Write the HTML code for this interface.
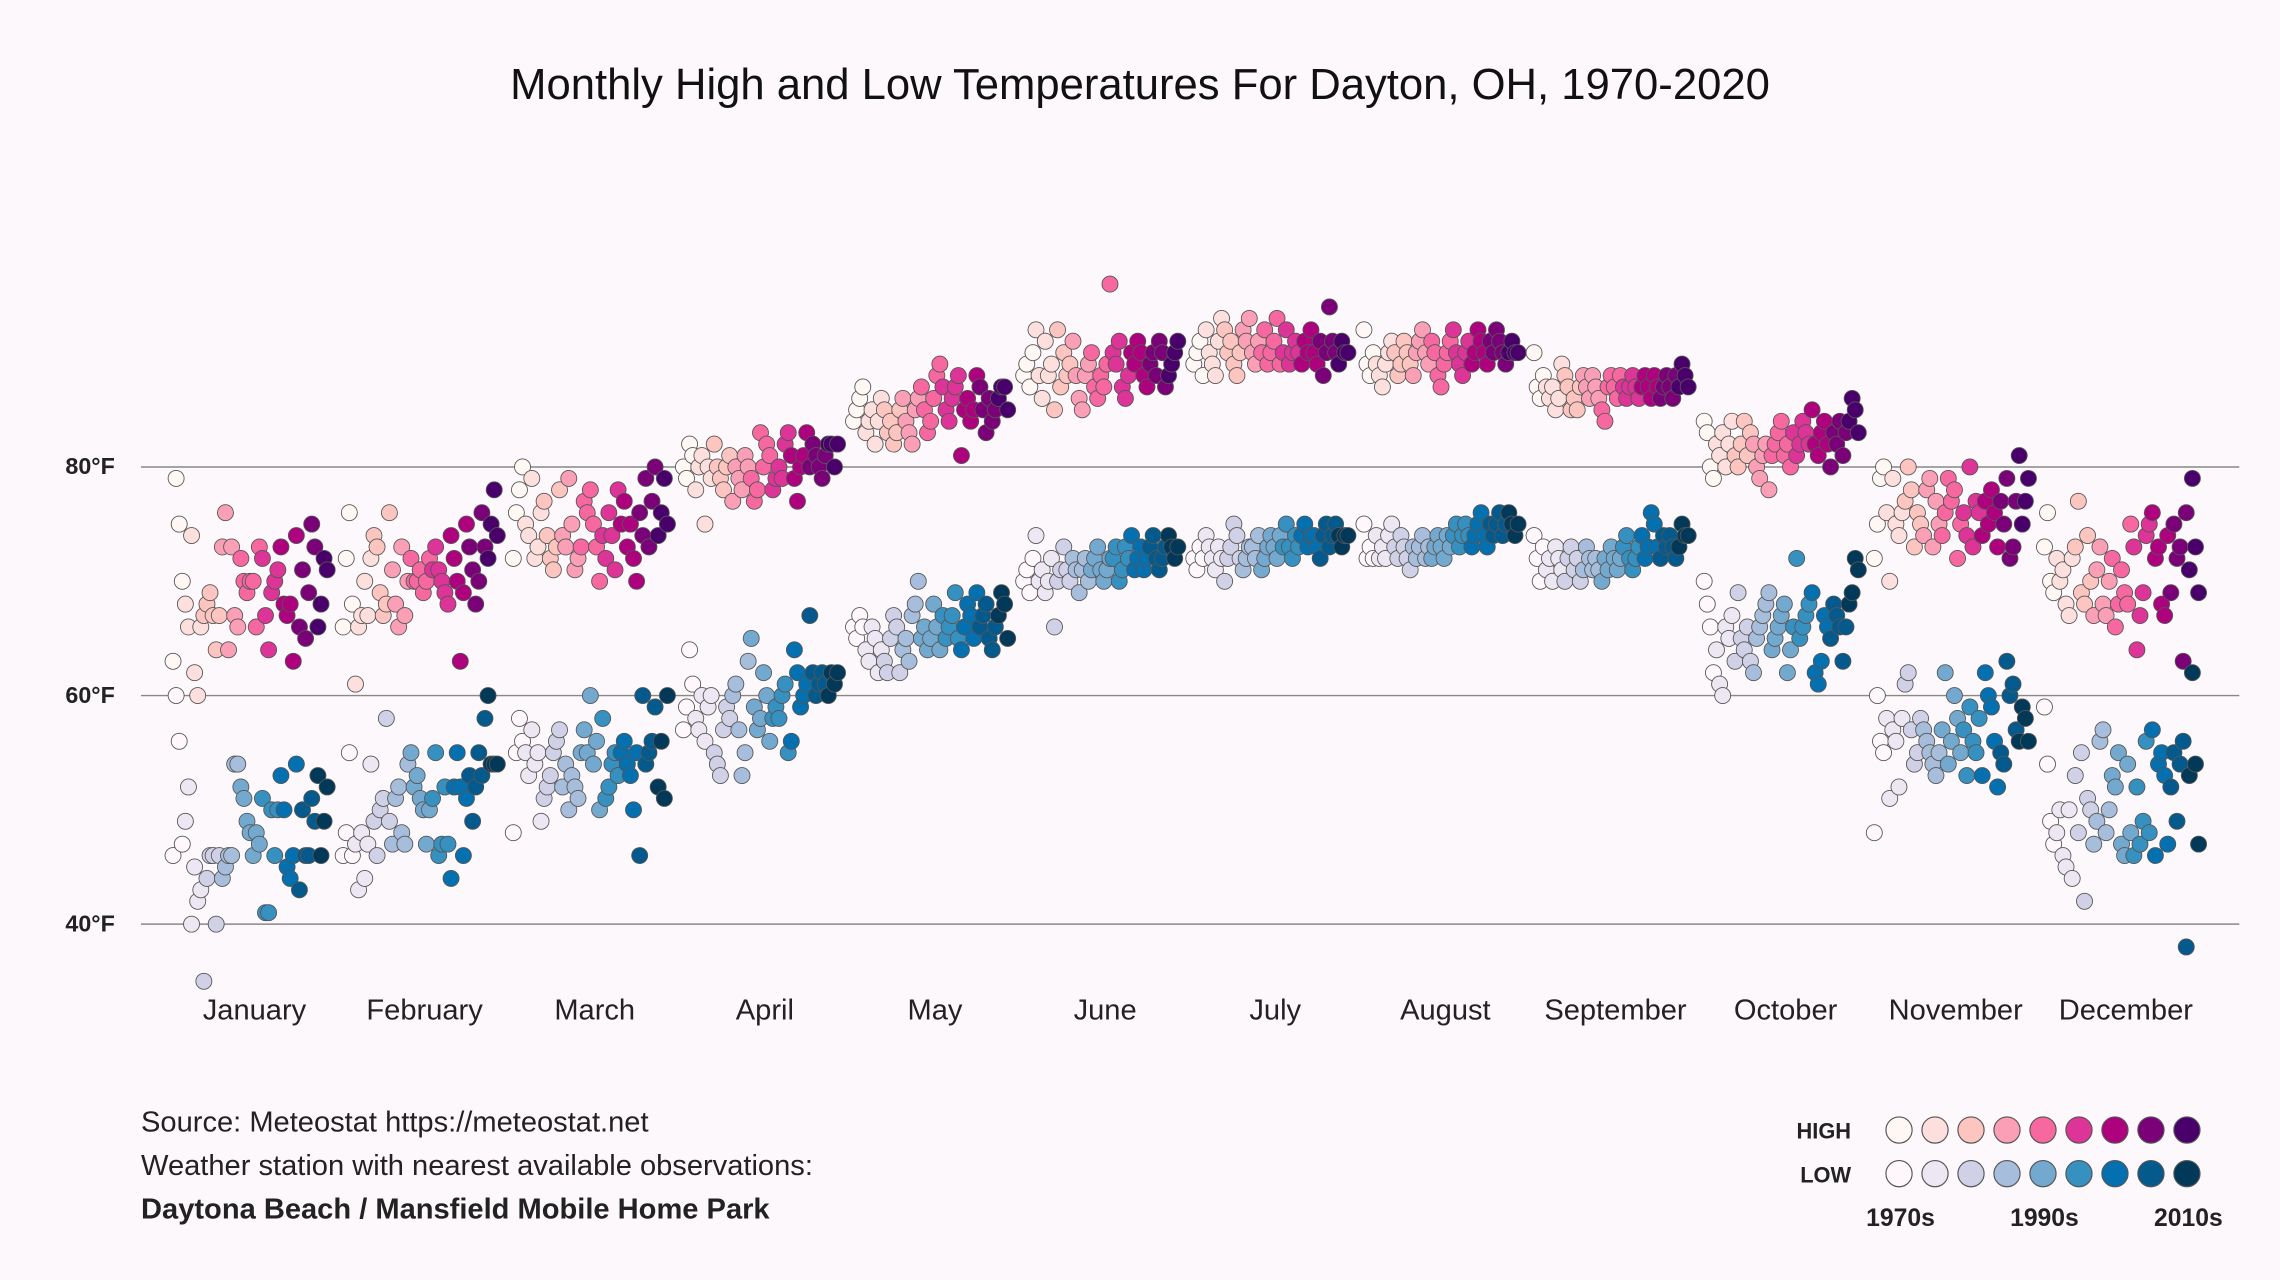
<!DOCTYPE html>
<html><head><meta charset="utf-8"><style>
html,body{margin:0;padding:0;background:#fdf8fb;}
svg{display:block;font-family:"Liberation Sans",sans-serif;}
</style></head><body>
<svg id="chart" width="2280" height="1280" viewBox="0 0 1568 880" xmlns="http://www.w3.org/2000/svg">
<rect width="1568" height="880" fill="#fdf8fb"/>
<text x="784" y="68" text-anchor="middle" font-size="30" fill="#111">Monthly High and Low Temperatures For Dayton, OH, 1970-2020</text>
<g id="grid"></g>
<g id="ylabels"></g>
<g id="xlabels"></g>
<g id="points"></g>
<g font-size="20" fill="#222">
<text x="97" y="778">Source: Meteostat https://meteostat.net</text>
<text x="97" y="808">Weather station with nearest available observations:</text>
<text x="97" y="838" font-weight="bold">Daytona Beach / Mansfield Mobile Home Park</text>
</g>
<g id="legend">
<text x="1273" y="783" text-anchor="end" font-size="15" font-weight="bold" fill="#222">HIGH</text>
<text x="1273" y="813" text-anchor="end" font-size="15" font-weight="bold" fill="#222">LOW</text>
<text x="1307" y="843" text-anchor="middle" font-size="17" font-weight="bold" fill="#222">1970s</text>
<text x="1406" y="843" text-anchor="middle" font-size="17" font-weight="bold" fill="#222">1990s</text>
<text x="1505" y="843" text-anchor="middle" font-size="17" font-weight="bold" fill="#222">2010s</text>
</g>
</svg>
<script>
const months=["January","February","March","April","May","June","July","August","September","October","November","December"];
const yTicks=[40,60,80];
const startYear=1970;
const highJan=[63,79,75,70,68,66,74,62,60,66,67,68,69,67,64,67,73,76,64,73,67,66,72,70,69,70,70,66,73,72,67,64,69,70,71,73,68,67,68,63,74,66,71,65,69,75,73,66,68,72,71];
const lowJan=[46,60,56,47,49,52,40,45,42,43,35,44,46,46,40,46,44,45,46,46,54,54,52,51,49,48,46,48,47,51,41,41,50,46,50,53,50,45,44,46,54,43,50,46,46,51,49,53,46,49,52];
const highFeb=[66,72,76,68,61,66,67,70,67,72,74,73,69,67,68,76,71,68,66,73,67,70,72,70,70,71,69,70,72,71,73,71,70,69,68,74,72,70,63,69,75,73,71,68,70,76,73,72,75,78,74];
const lowFeb=[46,48,55,46,47,43,48,44,47,54,49,46,50,51,58,49,47,51,52,48,47,54,55,52,53,51,50,47,50,51,55,46,47,52,47,44,52,55,52,46,51,53,49,52,55,53,58,60,54,54,54];
const highMar=[72,76,78,80,75,74,79,72,73,76,77,74,72,71,73,78,74,73,79,75,71,72,73,77,76,78,75,73,70,74,72,76,74,71,78,75,77,73,75,72,70,76,74,79,73,77,80,74,76,79,75];
const lowMar=[48,55,58,56,55,53,57,54,55,49,51,52,53,55,56,57,52,54,50,53,52,51,55,57,55,60,54,56,50,58,51,52,54,55,53,55,56,54,53,50,55,46,60,54,55,56,59,52,56,51,60];
const highApr=[80,79,82,81,78,80,81,75,80,79,82,80,79,78,80,81,77,80,79,78,81,80,79,77,78,83,80,82,81,78,79,80,79,82,83,81,79,77,80,81,83,80,82,81,80,79,81,82,82,80,82];
const lowApr=[57,59,64,61,58,57,60,56,59,60,55,54,53,57,59,58,60,61,57,53,55,63,65,59,57,58,62,60,56,58,59,58,60,61,55,56,64,62,59,60,61,67,62,60,61,62,61,60,62,61,62];
const highMay=[84,85,86,87,83,84,85,82,84,86,85,83,84,82,83,85,86,84,83,82,85,86,87,85,83,84,86,88,89,87,85,84,86,87,88,81,85,86,84,85,88,87,85,83,86,84,85,86,87,87,85];
const lowMay=[66,65,67,66,64,63,66,65,62,64,63,62,65,67,66,62,64,65,63,67,68,70,65,66,64,65,68,66,64,67,65,66,67,69,65,64,66,68,67,65,69,66,67,68,65,64,66,67,69,68,65];
const highJun=[88,89,87,90,92,88,86,91,88,89,85,92,87,90,88,89,91,88,86,85,88,89,90,87,86,88,87,89,96,90,89,91,87,86,88,90,89,91,90,88,87,89,90,88,91,90,87,88,89,90,91];
const lowJun=[70,71,69,72,74,70,71,69,70,72,66,70,71,73,71,70,72,71,69,71,72,70,71,72,73,71,70,71,72,72,73,70,71,73,72,74,71,72,73,71,72,73,74,72,71,72,73,74,73,72,73];
const highJul=[89,90,91,88,92,90,89,88,91,93,92,90,91,89,88,90,92,91,93,90,89,91,90,92,89,90,91,93,89,90,92,89,90,91,90,89,91,90,92,90,89,91,88,90,94,91,90,89,91,90,90];
const lowJul=[72,71,73,72,74,73,72,71,73,72,70,72,73,75,74,72,71,72,73,73,72,74,71,72,73,74,73,72,74,73,75,73,72,74,73,74,75,73,74,74,73,72,74,75,73,74,75,74,73,74,74];
const highAug=[92,89,88,90,89,88,87,89,90,91,90,88,89,91,90,89,88,90,91,92,90,89,91,90,88,87,89,90,91,92,90,89,88,90,91,89,90,92,91,90,89,91,90,92,91,90,89,90,91,90,90];
const lowAug=[75,72,73,72,74,72,73,72,74,75,73,72,74,73,72,71,73,72,73,74,72,73,72,73,74,73,72,74,73,74,75,73,74,75,74,73,74,75,76,74,73,75,74,75,76,74,75,76,75,74,75];
const highSep=[90,87,86,88,87,86,87,85,86,89,88,87,85,86,85,87,88,87,86,88,87,86,85,84,87,88,87,86,88,87,86,87,88,87,86,87,88,87,86,88,87,86,87,88,87,86,88,87,89,88,87];
const lowSep=[74,72,70,73,71,72,70,73,72,71,70,72,73,71,72,70,71,73,72,71,72,71,70,72,71,73,72,71,72,73,74,72,71,72,73,74,72,73,76,75,73,72,74,73,74,73,72,73,75,74,74];
const highOct=[84,83,80,79,82,81,83,80,82,84,81,80,82,84,81,83,82,80,79,81,82,78,81,82,83,84,81,82,80,83,81,82,84,83,82,85,82,81,83,84,82,80,83,82,84,81,83,84,86,85,83];
const lowOct=[70,68,66,62,64,61,60,66,65,67,63,69,65,64,66,63,62,65,66,67,68,69,64,65,66,67,68,62,64,66,72,65,66,67,68,69,62,61,63,67,66,65,68,67,66,63,66,68,69,72,71];
const highNov=[72,75,79,80,76,70,79,75,74,76,77,80,78,73,76,75,74,78,79,73,77,75,74,76,79,77,78,72,75,76,74,80,73,77,76,74,77,75,78,76,73,77,75,79,72,73,77,81,75,77,79];
const lowNov=[48,60,56,55,58,51,57,56,52,58,61,62,57,54,55,58,57,56,55,54,53,55,57,62,54,56,60,58,55,57,53,59,56,55,58,53,62,60,59,56,52,55,54,63,60,61,57,56,59,58,56];
const highDec=[73,76,70,69,72,70,71,68,67,72,73,77,69,68,74,70,67,71,73,68,67,70,72,66,68,71,69,68,75,73,64,67,69,74,75,76,72,73,68,67,74,69,75,72,73,63,76,71,79,73,69];
const lowDec=[59,54,49,47,48,50,46,45,50,44,53,48,55,42,51,50,47,49,56,57,48,50,53,52,55,47,46,54,48,46,52,47,49,56,48,57,46,54,55,53,47,52,55,49,54,56,38,53,62,54,47];
const highs=[highJan,highFeb,highMar,highApr,highMay,highJun,highJul,highAug,highSep,highOct,highNov,highDec];
const lows=[lowJan,lowFeb,lowMar,lowApr,lowMay,lowJun,lowJul,lowAug,lowSep,lowOct,lowNov,lowDec];

const highColors=["#fff7f3","#fde0dd","#fcc5c0","#fa9fb5","#f768a1","#dd3497","#ae017e","#7a0177","#49006a"];
const lowColors=["#fff7fb","#ece7f2","#d0d1e6","#a6bddb","#74a9cf","#3690c0","#0570b0","#045a8d","#023858"];
const NS="http://www.w3.org/2000/svg";
function yScale(v){return 321+(80-v)*7.86;}
function monthCenter(m){return 175+m*117;}
function xScale(m,i,n){return monthCenter(m)-56+i*(106/(n-1));}
function colorIdx(i){return Math.min(8,Math.round(i/50*8));}
function mk(tag,attrs,parent){const e=document.createElementNS(NS,tag);for(const k in attrs)e.setAttribute(k,attrs[k]);parent.appendChild(e);return e;}

const grid=document.getElementById('grid'),yl=document.getElementById('ylabels'),xl=document.getElementById('xlabels'),pts=document.getElementById('points');
yTicks.forEach(t=>{
  const l=mk('line',{x1:97,x2:1540,y1:yScale(t),y2:yScale(t),stroke:'#888','stroke-width':1},grid);
  
  
  const tx=mk('text',{x:45,y:yScale(t)+5,'font-size':16,'font-weight':'bold',fill:'#222'},yl);
  tx.textContent=t+'°F';
  
  
});
months.forEach((m,mi)=>{
  const tx=mk('text',{x:monthCenter(mi),y:701,'text-anchor':'middle','font-size':20,fill:'#222'},xl);
  tx.textContent=m;
  
  
});
months.forEach((m,mi)=>{
  [[highs[mi],highColors,'high'],[lows[mi],lowColors,'low']].forEach(([arr,cols,kind])=>{
    arr.forEach((v,i)=>{
      const c=mk('circle',{cx:xScale(mi,i,arr.length),cy:yScale(v),r:5.5,fill:cols[colorIdx(i)],stroke:'#555','stroke-width':0.6},pts);
      
      
    });
  });
});
const lg=document.getElementById('legend');
for(let k=0;k<9;k++){
  const a=mk('circle',{cx:1306+k*24.75,cy:777,r:9,fill:highColors[k],stroke:'#555','stroke-width':0.8},lg);
  
  
  const b=mk('circle',{cx:1306+k*24.75,cy:807,r:9,fill:lowColors[k],stroke:'#555','stroke-width':0.8},lg);
  
  
}
</script>
</body></html>
